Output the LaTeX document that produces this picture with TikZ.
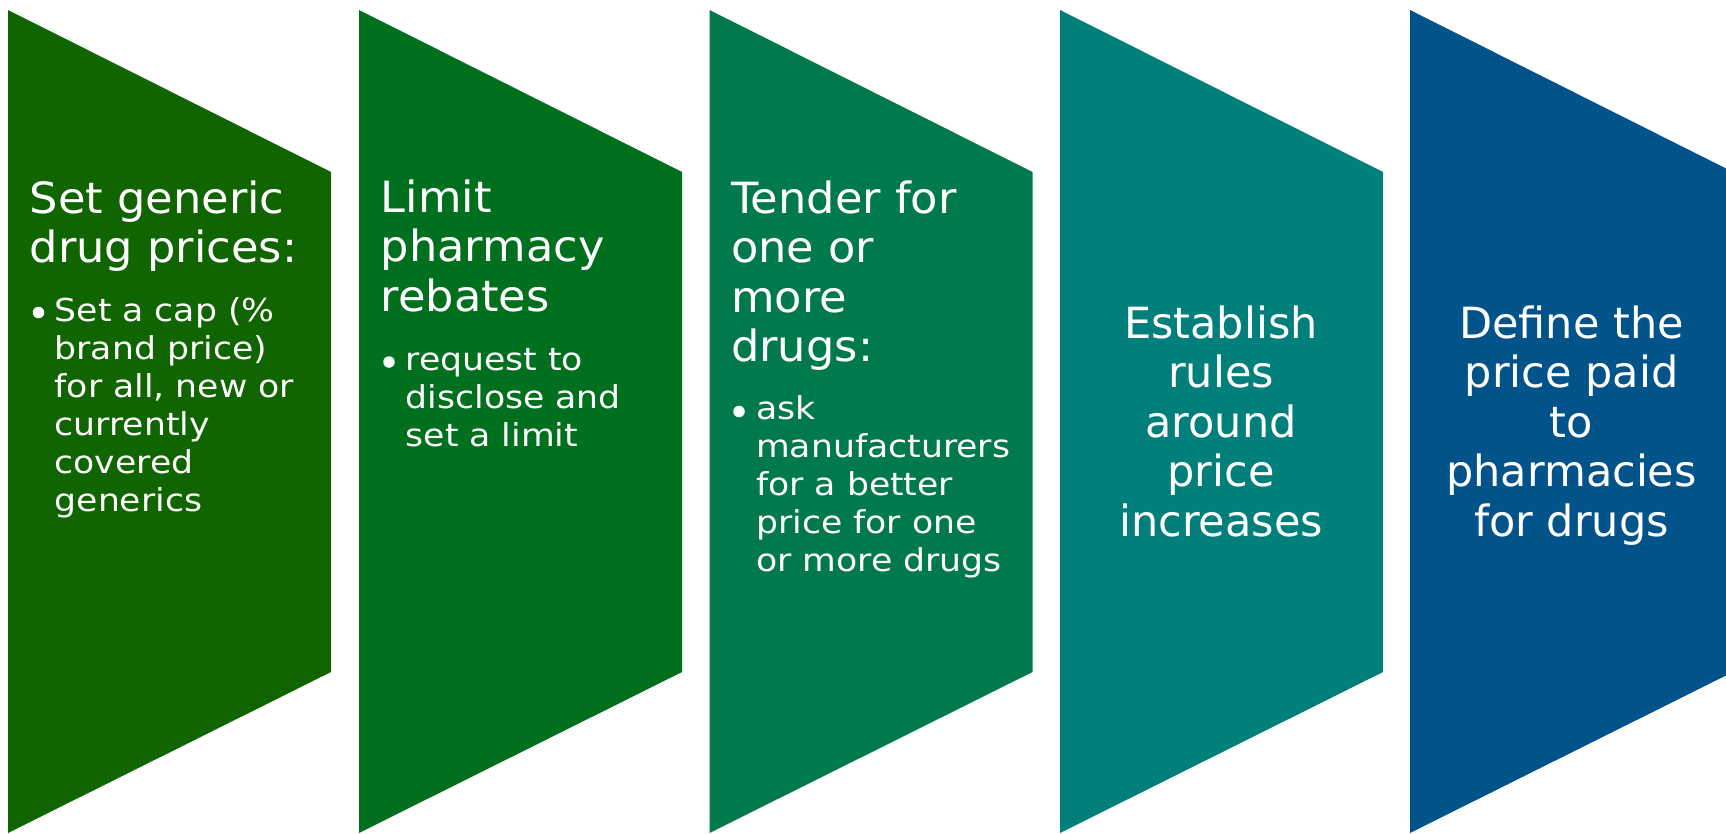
\documentclass[tikz,border=0pt]{standalone}
\usepackage{fontspec}
\setmainfont{DejaVu Sans}
\newfontfamily\widesans[FakeStretch=1.1]{DejaVu Sans}
\newfontfamily\headsans[FakeStretch=1.04]{DejaVu Sans}
\definecolor{stepA}{RGB}{17,101,0}
\definecolor{stepB}{RGB}{0,112,31}
\definecolor{stepC}{RGB}{0,122,77}
\definecolor{stepD}{RGB}{0,127,123}
\definecolor{stepE}{RGB}{1,83,138}
\begin{document}
\begin{tikzpicture}[x=1pt,y=-1pt,
  % multi-line nodes are anchored at the baseline of their last line
  heading/.style={text=white, inner sep=0pt, align=left, anchor=base west,
    font=\headsans\fontsize{43}{49.5}\selectfont},
  centerhead/.style={text=white, inner sep=0pt, align=center, anchor=base,
    font=\fontsize{43}{49.5}\selectfont},
  bullettext/.style={text=white, inner sep=0pt, align=left, anchor=base west,
    font=\widesans\fontsize{31.5}{38}\selectfont},
  dot/.style={circle, fill=white, inner sep=0pt, minimum size=11.5pt}]
\useasboundingbox (0,0) rectangle (1726,833);
\clip (0,0) rectangle (1726,833);
% chevron-like panels: vertical left edge, slanted top and bottom
\foreach \L/\c in {8/stepA, 359/stepB, 709.5/stepC, 1060/stepD, 1410/stepE}{
  \fill[\c] (\L,10) -- (\L+323,172) -- (\L+323,672) -- (\L,833) -- cycle;
}
% panel 1
\node[heading] (h1) at (29.5,262.5) {Set generic\\drug prices:};
\node[dot] (d1) at (38.5,312.5) {};
\node[bullettext] (b1) at (54.5,511.7) {Set a cap (\%\\brand price)\\for all, new or\\currently\\covered\\generics};
% panel 2
\node[heading] (h2) at (380.5,311) {Limit\\pharmacy\\rebates};
\node[dot] (d2) at (389,362) {};
\node[bullettext] (b2) at (405.5,446) {request to\\disclose and\\set a limit};
% panel 3
\node[heading] (h3) at (731,361.8) {Tender for\\one or\\more\\drugs:};
\node[dot] (d3) at (739,411.5) {};
\node[bullettext] (b3) at (756,571) {ask\\manufacturers\\for a better\\price for one\\or more drugs};
% panel 4
\node[centerhead] (h4) at (1221,536.3) {Establish\\rules\\around\\price\\increases};
% panel 5
\node[centerhead] (h5) at (1571.5,536) {Define the\\price paid\\to\\pharmacies\\for drugs};
\end{tikzpicture}
\end{document}
